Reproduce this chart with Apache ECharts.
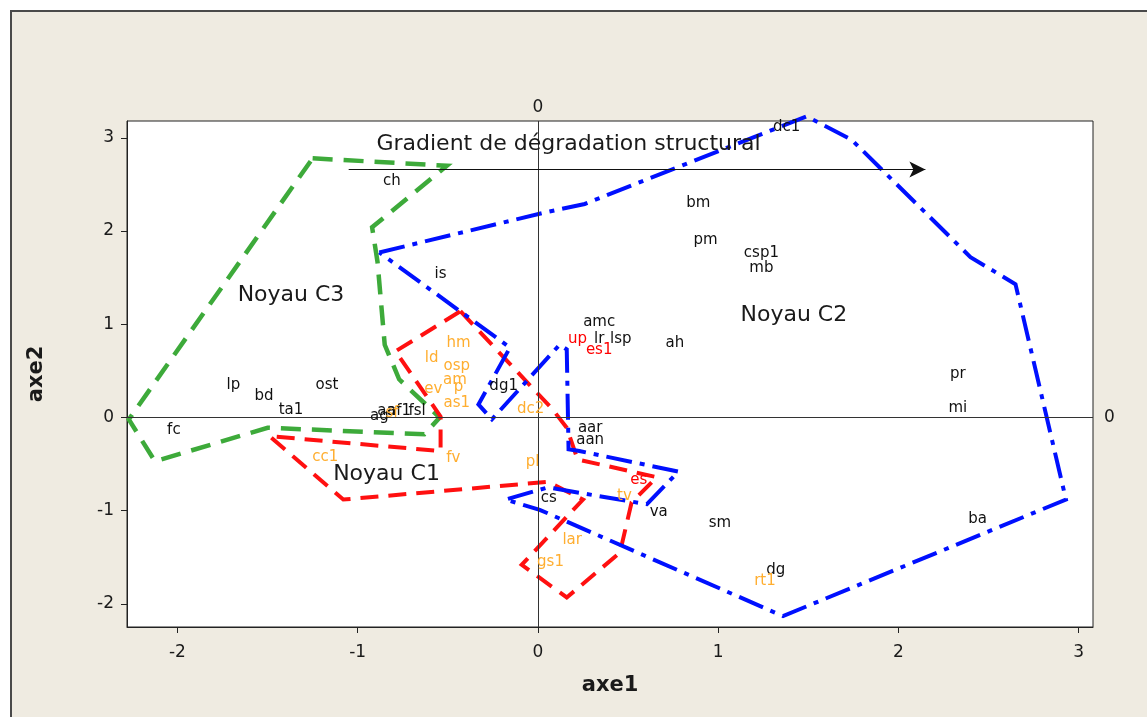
<!DOCTYPE html>
<html>
<head>
<meta charset="utf-8">
<script src="https://cdn.jsdelivr.net/npm/echarts@6/dist/echarts.min.js"></script>
<style>
  html, body { margin: 0; padding: 0; background: #ffffff; }
  #frame {
    position: absolute; left: 10px; top: 10px; width: 1140px; height: 710px;
    background: #EFEBE1; border-top: 2px solid #4a4a4a; border-left: 2px solid #4a4a4a;
  }
  #chart { position: absolute; left: 0; top: 0; width: 1147px; height: 717px; }
</style>
</head>
<body>
<div id="frame"></div>
<div id="chart"></div>
<script>
// Tick values of both axes
const xTicks = [-2, -1, 0, 1, 2, 3];
const yTicks = [-2, -1, 0, 1, 2, 3];

// Station labels on the factorial plane: [name, axe1, axe2]
const blackPoints = [
  ['dc1', 1.38, 3.11], ['ch', -0.81, 2.54], ['bm', 0.89, 2.30], ['pm', 0.93, 1.90],
  ['csp1', 1.24, 1.76], ['mb', 1.24, 1.60], ['is', -0.54, 1.54], ['amc', 0.34, 1.02],
  ['lr', 0.34, 0.84], ['lsp', 0.46, 0.84], ['ah', 0.76, 0.80], ['pr', 2.33, 0.46],
  ['mi', 2.33, 0.10], ['lp', -1.69, 0.35], ['bd', -1.52, 0.23], ['ost', -1.17, 0.35],
  ['ta1', -1.37, 0.08], ['fc', -2.02, -0.13], ['dg1', -0.19, 0.34], ['aar', 0.29, -0.11],
  ['aan', 0.29, -0.24], ['cs', 0.06, -0.86], ['va', 0.67, -1.01], ['sm', 1.01, -1.13],
  ['dg', 1.32, -1.64], ['ba', 2.44, -1.09],
  ['ag', -0.88, 0.01], ['aa', -0.84, 0.07], ['af1', -0.77, 0.07], ['fsl', -0.67, 0.07]
];
const orangePoints = [
  ['hm', -0.44, 0.80], ['ld', -0.59, 0.64], ['osp', -0.45, 0.55], ['am', -0.46, 0.40],
  ['ev', -0.58, 0.30], ['p', -0.44, 0.33], ['as1', -0.45, 0.15], ['dc2', -0.04, 0.09],
  ['fv', -0.47, -0.44], ['cc1', -1.18, -0.42], ['pl', -0.03, -0.48], ['tv', 0.48, -0.84],
  ['lar', 0.19, -1.32], ['gs1', 0.07, -1.55], ['rt1', 1.26, -1.75], ['sf', -0.81, 0.05]
];
const redPoints = [
  ['up', 0.22, 0.84], ['es1', 0.34, 0.72], ['es', 0.56, -0.67]
];

// Group outlines (closed polygons)
const noyauC1 = [
  [-0.43, 1.14], [0.08, 0.09], [0.16, -0.11], [0.22, -0.45], [0.66, -0.64],
  [0.52, -0.91], [0.455, -1.45], [0.16, -1.93], [-0.09, -1.58], [0.25, -0.88],
  [0.055, -0.69], [-1.08, -0.88], [-1.49, -0.20], [-0.54, -0.36], [-0.54, 0.01],
  [-0.79, 0.71], [-0.43, 1.14]
];
const noyauC2 = [
  [-0.88, 1.77], [0.04, 2.20], [0.26, 2.29], [1.49, 3.23], [1.74, 2.98],
  [2.40, 1.72], [2.65, 1.43], [2.93, -0.88], [1.36, -2.13], [0.01, -0.99],
  [-0.18, -0.88], [0.055, -0.75], [0.605, -0.93], [0.78, -0.58], [0.23, -0.36],
  [0.17, -0.34], [0.16, 0.73], [0.12, 0.78], [-0.255, -0.02], [-0.33, 0.14],
  [-0.155, 0.75], [-0.88, 1.77]
];
const noyauC3 = [
  [-1.25, 2.78], [-0.505, 2.70], [-0.92, 2.04], [-0.89, 1.67], [-0.85, 0.78],
  [-0.77, 0.41], [-0.545, 0.0], [-0.63, -0.18], [-1.50, -0.11], [-2.125, -0.47],
  [-2.27, -0.02], [-1.25, 2.78]
];

// Annotation texts and the gradient arrow
const groupNames = [
  ['Noyau C3', -1.37, 1.31], ['Noyau C2', 1.42, 1.10], ['Noyau C1', -0.84, -0.61]
];
const gradientTitle = ['Gradient de dégradation structural', 0.17, 2.93];
const gradientArrow = [[-1.05, 2.66], [2.15, 2.66]];

const FONT = 'DejaVu Sans';

// Text-only scatter: the symbol has no size, only its label is drawn
function textSeries(name, pts, color, size, z) {
  return {
    name: name,
    type: 'scatter',
    symbol: 'circle',
    symbolSize: 0,
    itemStyle: { color: color, opacity: 1 },
    silent: true,
    z: z,
    data: pts.map(p => ({ name: p[0], value: [p[1], p[2]] })),
    label: {
      show: true,
      position: 'inside',
      formatter: '{b}',
      color: color,
      opacity: 1,
      textBorderWidth: 0,
      fontFamily: FONT,
      fontSize: size
    }
  };
}

function outline(name, pts, color, dash, width) {
  return {
    name: name,
    type: 'line',
    data: pts,
    symbol: 'none',
    clip: false,
    silent: true,
    z: 3,
    lineStyle: { color: color, width: width, type: dash, cap: 'butt', join: 'miter' }
  };
}

const chart = echarts.init(document.getElementById('chart'), null, { renderer: 'canvas' });

const annotationSeries = textSeries('annotations', groupNames.concat([gradientTitle]), '#1a1a1a', 22, 6);
annotationSeries.markLine = {
  silent: true,
  animation: false,
  symbol: ['none', 'arrow'],
  symbolSize: [12, 16],
  lineStyle: { color: '#111', width: 1, type: 'solid' },
  label: { show: false },
  data: [[{ coord: gradientArrow[0] }, { coord: gradientArrow[1] }]]
};

chart.setOption({
  backgroundColor: 'transparent',
  animation: false,
  grid: {
    left: 127, right: 54, top: 121, bottom: 90,
    show: true, backgroundColor: '#ffffff', borderColor: '#222222', borderWidth: 1
  },
  xAxis: {
    type: 'value', min: -2.28, max: 3.08,
    name: 'axe1', nameLocation: 'middle', nameGap: 48,
    nameTextStyle: { fontFamily: FONT, fontSize: 21, fontWeight: 'bold', color: '#1a1a1a' },
    axisLine: { show: true, onZero: false, lineStyle: { color: '#222', width: 1 } },
    axisTick: { show: true, inside: false, length: 6, customValues: xTicks, lineStyle: { color: '#222' } },
    axisLabel: { customValues: xTicks, margin: 17, fontFamily: FONT, fontSize: 17, color: '#1a1a1a' },
    splitLine: { show: false }
  },
  yAxis: {
    type: 'value', min: -2.247, max: 3.18,
    name: 'axe2', nameLocation: 'middle', nameGap: 80,
    nameTextStyle: { fontFamily: FONT, fontSize: 21, fontWeight: 'bold', color: '#1a1a1a' },
    axisLine: { show: true, onZero: false, lineStyle: { color: '#222', width: 1 } },
    axisTick: { show: true, inside: false, length: 6, customValues: yTicks, lineStyle: { color: '#222' } },
    axisLabel: { customValues: yTicks, margin: 13, fontFamily: FONT, fontSize: 17, color: '#1a1a1a' },
    splitLine: { show: false }
  },
  series: [
    {
      // reference lines through the origin
      name: 'origine',
      type: 'scatter',
      data: [],
      silent: true,
      markLine: {
        silent: true,
        symbol: 'none',
        animation: false,
        lineStyle: { color: '#333333', width: 1, type: 'solid' },
        label: {
          show: true, position: 'end', formatter: '0', distance: 6,
          fontFamily: FONT, fontSize: 17, color: '#1a1a1a'
        },
        data: [{ xAxis: 0, label: { distance: 5 } }, { yAxis: 0, label: { distance: 11 } }]
      }
    },
    outline('Noyau C3', noyauC3, '#3DAA3A', [20, 11], 4.5),
    outline('Noyau C1', noyauC1, '#FF1010', [18, 10], 4),
    outline('Noyau C2', noyauC2, '#0010FF', [26, 8, 5, 8], 4),
    textSeries('noir', blackPoints, '#111111', 15, 5),
    textSeries('orange', orangePoints, '#FFAE30', 15, 5),
    textSeries('rouge', redPoints, '#FF0000', 15, 5),
    annotationSeries
  ]
});
</script>
</body>
</html>
